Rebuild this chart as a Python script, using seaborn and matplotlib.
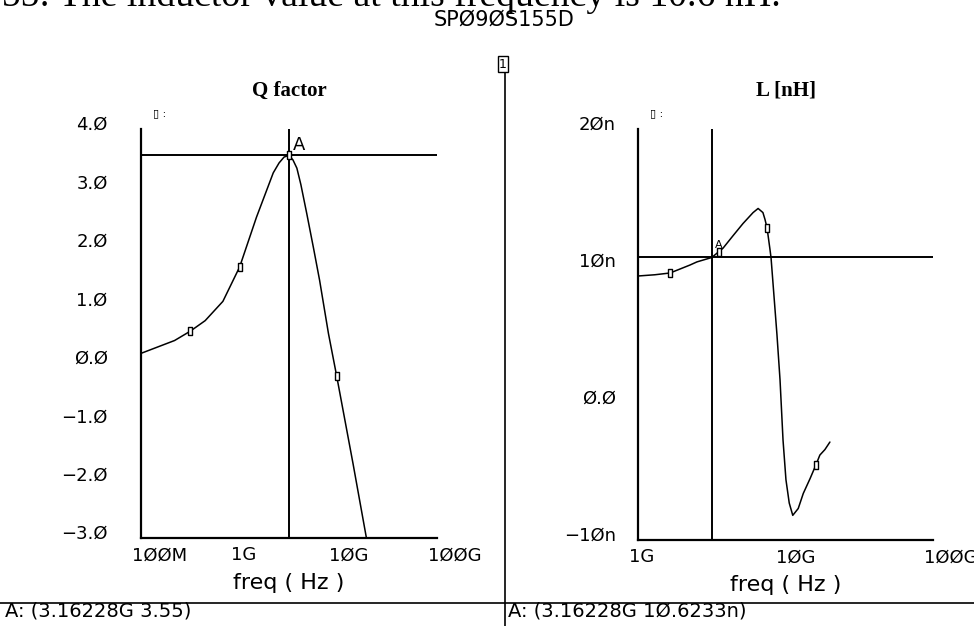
import numpy as np
import pandas as pd
import matplotlib
matplotlib.use("Agg")
import matplotlib.pyplot as plt
import matplotlib.ticker as mticker
from matplotlib.lines import Line2D
from matplotlib.transforms import ScaledTranslation
import seaborn as sns

# ---------------- data ----------------
q_freq_ghz = [0.100, 0.219, 0.316, 0.447, 0.676, 1.00, 1.48, 2.19, 2.51, 2.82,
              3.162, 3.47, 3.80, 4.17, 4.79, 5.62, 6.46, 7.94, 9.60, 14.1, 19.5]
q_value = [0.16, 0.38, 0.54, 0.72, 1.05, 1.64, 2.49, 3.25, 3.42, 3.52,
           3.55, 3.47, 3.33, 3.05, 2.55, 1.95, 1.41, 0.50, -0.22, -1.73, -3.05]
q_mark_ghz = [0.316, 1.00, 3.162, 9.60]
q_mark_val = [0.54, 1.64, 3.55, -0.22]

l_freq_ghz = [1.00, 1.30, 1.65, 2.25, 2.51, 3.162, 3.77, 4.40, 5.15, 6.03, 6.52,
              7.03, 7.26, 7.50, 7.85, 7.98, 8.75, 9.18, 9.62, 10.07, 10.6, 11.2,
              12.2, 13.2, 14.7, 16.1, 17.1, 18.5, 20.0]
l_value_nh = [9.27, 9.36, 9.49, 10.07, 10.30, 10.62, 11.3, 12.2, 13.1, 13.9, 14.2,
              13.9, 13.4, 12.77, 11.2, 10.6, 5.0, 1.7, -2.7, -5.6, -7.3, -8.2,
              -7.7, -6.6, -5.5, -4.5, -3.8, -3.4, -2.85]
l_mark_ghz = [1.65, 3.55, 7.50, 16.1]
l_mark_val = [9.49, 11.0, 12.77, -4.5]

cursor_freq = 3.16228e9
cursor_q = 3.55
cursor_l = 10.6233

q_xticks = [1e8, 1e9, 1e10, 1e11]
q_xticklabels = ["1ØØM", "1G", "1ØG", "1ØØG"]
q_yticks = [-3, -2, -1, 0, 1, 2, 3, 4]
q_yticklabels = ["−3.Ø", "−2.Ø", "−1.Ø", "Ø.Ø", "1.Ø", "2.Ø", "3.Ø", "4.Ø"]
l_xticks = [1e9, 1e10, 1e11]
l_xticklabels = ["1G", "1ØG", "1ØØG"]
l_yticks = [-10, 0, 10, 20]
l_yticklabels = ["−1Øn", "Ø.Ø", "1Øn", "2Øn"]

caption = "155: The inductor value at this frequency is 10.6 nH."
window_title = "SPØ9ØS155D"
q_title = "Q factor"
l_title = "L [nH]"
x_label = "freq ( Hz )"
q_readout = "A: (3.16228G 3.55)"
l_readout = "A: (3.16228G 1Ø.6233n)"

# ---------------- figure ----------------
sns.set_theme(style="white")
plt.rcParams['font.family'] = ['DejaVu Sans']
plt.rcParams['text.color'] = 'black'

W, H = 974, 626
fig = plt.figure(figsize=(W / 100, H / 100), dpi=100)
fig.patch.set_facecolor("white")

axq = fig.add_axes([141 / W, 1 - 538 / H, 296 / W, 409 / H])
axl = fig.add_axes([638 / W, 1 - 540 / H, 295 / W, 411 / H])

dq = pd.DataFrame({"freq": np.array(q_freq_ghz) * 1e9, "Q": q_value})
dqm = pd.DataFrame({"freq": np.array(q_mark_ghz) * 1e9, "Q": q_mark_val})
dl = pd.DataFrame({"freq": np.array(l_freq_ghz) * 1e9, "L": l_value_nh})
dlm = pd.DataFrame({"freq": np.array(l_mark_ghz) * 1e9, "L": l_mark_val})

rect = [(-0.32, -0.5), (0.32, -0.5), (0.32, 0.5), (-0.32, 0.5), (-0.32, -0.5)]

sns.lineplot(data=dq, x="freq", y="Q", ax=axq, color="black", lw=1.1)
sns.scatterplot(data=dqm, x="freq", y="Q", ax=axq, marker=rect, s=30,
                facecolor="white", edgecolor="black", linewidth=1.0, zorder=5)
sns.lineplot(data=dl, x="freq", y="L", ax=axl, color="black", lw=1.1)
sns.scatterplot(data=dlm, x="freq", y="L", ax=axl, marker=rect, s=30,
                facecolor="white", edgecolor="black", linewidth=1.0, zorder=5)

axq.axhline(cursor_q, color="black", lw=1.4)
axq.axvline(cursor_freq, color="black", lw=1.4)
axl.axhline(cursor_l, color="black", lw=1.4)
axl.axvline(cursor_freq, color="black", lw=1.4)

for ax, xt, xtl, yt, ytl, xlim, ylim, ymin, title, ypad in [
        (axq, q_xticks, q_xticklabels, q_yticks, q_yticklabels, (1e8, 1e11), (-3, 4), 0.2, q_title, 24),
        (axl, l_xticks, l_xticklabels, l_yticks, l_yticklabels, (1e9, 1e11), (-10, 20), 1.0, l_title, 16)]:
    ax.set_xscale("log")
    ax.set_xlim(*xlim)
    ax.set_ylim(*ylim)
    ax.set_facecolor("white")
    for s in ["top", "right"]:
        ax.spines[s].set_visible(False)
    for s in ["left", "bottom"]:
        ax.spines[s].set_color("black")
        ax.spines[s].set_linewidth(1.6)
    ax.xaxis.set_minor_locator(mticker.LogLocator(base=10, subs=np.arange(2, 10), numticks=50))
    ax.xaxis.set_minor_formatter(mticker.NullFormatter())
    ax.yaxis.set_minor_locator(mticker.MultipleLocator(ymin))
    ax.tick_params(which="both", direction="in", color="black", width=1.2,
                   labelcolor="black", labelsize=13)
    ax.tick_params(which="major", length=7)
    ax.tick_params(which="minor", length=6)
    ax.tick_params(axis="x", which="major", pad=6)
    ax.tick_params(axis="y", which="major", pad=ypad)
    ax.set_xticks(xt)
    ax.set_xticklabels(xtl)
    ax.set_yticks(yt)
    ax.set_yticklabels(ytl)
    ax.set_xlabel(x_label, fontsize=16, labelpad=6, color="black")
    ax.set_ylabel("")
    ax.set_title(title, fontfamily="Liberation Serif", fontweight="bold",
                 fontsize=15, pad=24, color="black")
    ax.text(0.04, 1.03, "▯ :", transform=ax.transAxes, fontsize=8, color="black")

xoff = ScaledTranslation(-9 / 100, 0, fig.dpi_scale_trans)
yoff = ScaledTranslation(0, 6 / 100, fig.dpi_scale_trans)
for ax in (axq, axl):
    for lab in ax.get_xticklabels():
        lab.set_horizontalalignment("left")
        lab.set_transform(lab.get_transform() + xoff)
    for lab in ax.get_yticklabels():
        lab.set_transform(lab.get_transform() + yoff)

axq.annotate("A", xy=(cursor_freq, cursor_q), xytext=(4, 1), textcoords="offset pixels",
             ha="left", va="bottom", fontsize=13, color="black")
axl.annotate("A", xy=(3.55e9, 11.0), xytext=(0, 2), textcoords="offset pixels",
             ha="center", va="bottom", fontsize=8, color="black")

# window furniture
fig.text(504 / W, 1 - 20 / H, window_title, ha="center", va="center", fontsize=15)
fig.text(503 / W, 1 - 64 / H, "1", ha="center", va="center", fontsize=9,
         bbox=dict(boxstyle="square,pad=0.1", fc="white", ec="black", lw=1))
fig.add_artist(Line2D([505 / W, 505 / W], [0, 1 - 71 / H], color="black", lw=1.2,
                      transform=fig.transFigure))
fig.add_artist(Line2D([0, 1], [1 - 603 / H, 1 - 603 / H], color="black", lw=1.2,
                      transform=fig.transFigure))
fig.text(5 / W, 1 - 611 / H, q_readout, ha="left", va="center", fontsize=14)
fig.text(508 / W, 1 - 611 / H, l_readout, ha="left", va="center", fontsize=14)

# clipped caption from the surrounding document, fitted to its visible width
r = fig.canvas.get_renderer()
probe = fig.text(0, 0, caption[1:], fontfamily="Liberation Serif", fontsize=20)
wpx = probe.get_window_extent(r).width
probe.remove()
fs = 20 * 778 / wpx
fig.text(781 / W, 1 - 6 / H, caption, ha="right", va="baseline",
         fontfamily="Liberation Serif", fontsize=fs)

fig.savefig("out.png", dpi=100, facecolor="white")
